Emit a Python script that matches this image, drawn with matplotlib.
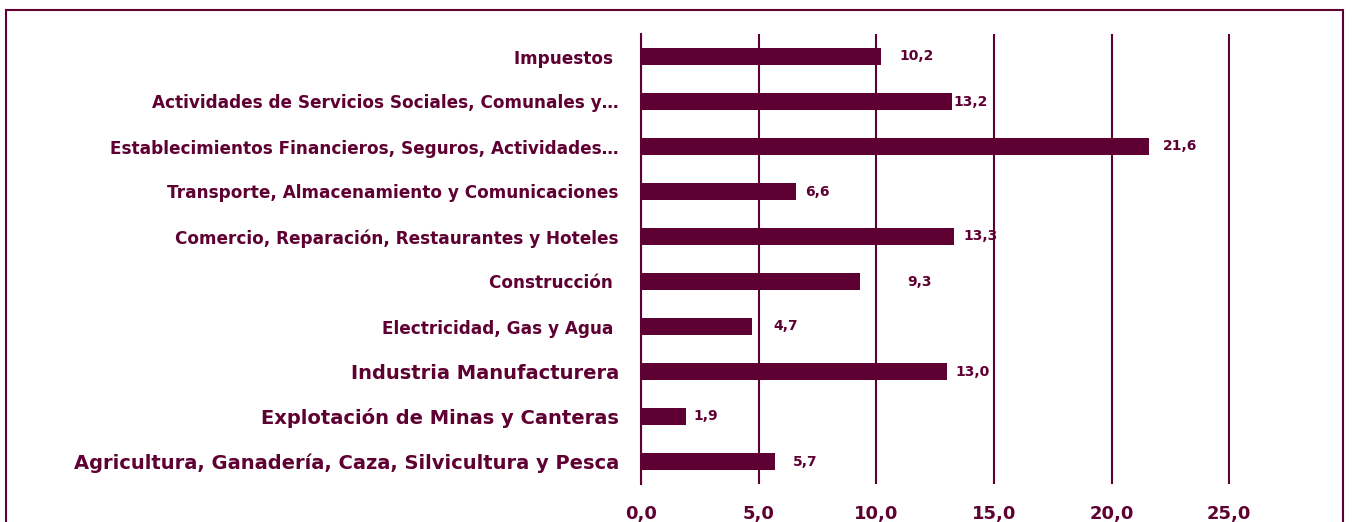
import matplotlib.pyplot as plt
from matplotlib.patches import Rectangle

sectores = [
    "Agricultura, Ganadería, Caza, Silvicultura y Pesca",
    "Explotación de Minas y Canteras",
    "Industria Manufacturera",
    "Electricidad, Gas y Agua ",
    "Construcción ",
    "Comercio, Reparación, Restaurantes y Hoteles",
    "Transporte, Almacenamiento y Comunicaciones",
    "Establecimientos Financieros, Seguros, Actividades…",
    "Actividades de Servicios Sociales, Comunales y…",
    "Impuestos ",
]
valores = [5.7, 1.9, 13.0, 4.7, 9.3, 13.3, 6.6, 21.6, 13.2, 10.2]
etiquetas = ["5,7", "1,9", "13,0", "4,7", "9,3", "13,3", "6,6", "21,6", "13,2", "10,2"]
xticks = [0, 5, 10, 15, 20, 25]
xtick_labels = ["0,0", "5,0", "10,0", "15,0", "20,0", "25,0"]

# layout tweaks (label gaps in px, label font sizes)
gaps = [18, 8, 9, 22, 47, 9, 9, 14, 2, 18]
ysizes = [14, 14, 14, 12.2, 12.2, 12.2, 12.2, 12.2, 12.2, 12.2]

color = "#5E0032"

fig = plt.figure(figsize=(13.53, 5.22), dpi=100)
ax = fig.add_axes([641 / 1353, 1 - 484 / 522, (1230 - 641) / 1353, 450 / 522])

ypos = list(range(len(valores)))
ax.barh(ypos, valores, height=0.36, color=color, zorder=3)

for y, v, lab, g in zip(ypos, valores, etiquetas, gaps):
    ax.annotate(lab, (v, y), xytext=(g * 0.72, 0), textcoords="offset points",
                ha="left", va="center", fontsize=10, fontweight="bold", color=color)

ax.set_xlim(0, 25.03)
ax.set_ylim(-0.5, len(valores) - 0.5)
ax.set_xticks(xticks)
ax.set_xticklabels(xtick_labels, fontsize=13, fontweight="bold", color=color)
ax.set_yticks(ypos)
ax.set_yticklabels(sectores, fontweight="bold", color=color)
for t, s in zip(ax.get_yticklabels(), ysizes):
    t.set_fontsize(s)
ax.tick_params(axis="both", length=0)
ax.tick_params(axis="y", pad=16)
ax.tick_params(axis="x", pad=15)

ax.grid(axis="x", color=color, linewidth=1.5, zorder=0)
for side in ["top", "right", "bottom"]:
    ax.spines[side].set_visible(False)
ax.spines["left"].set_color(color)
ax.spines["left"].set_linewidth(1.5)
ax.spines["left"].set_zorder(4)

# outer frame
fig.patches.append(Rectangle((6 / 1353, -0.05), (1343 - 6) / 1353, 1.05 - 10 / 522,
                             transform=fig.transFigure, fill=False,
                             edgecolor=color, linewidth=1.5))

fig.savefig("out.png", dpi=100)
